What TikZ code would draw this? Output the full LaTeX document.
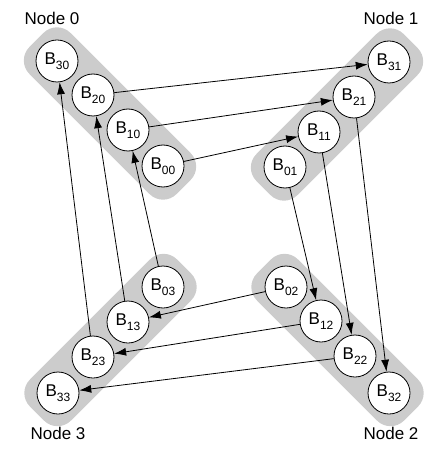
\documentclass[tikz,border=0pt]{standalone}
\usepackage{fontspec}
\setmainfont{Liberation Sans}
\usetikzlibrary{arrows.meta}
\newcommand{\blk}[1]{B\raisebox{-0.5ex}{\fontsize{12}{12}\selectfont #1}}
\tikzset{
  buf/.style={circle, draw, line width=0.8pt, fill=white, minimum size=42pt, inner sep=0pt, font=\fontsize{17}{20}\selectfont},
  grp/.style={fill=black!20, rounded corners=19pt, minimum width=208pt, minimum height=58pt, inner sep=0pt},
  tag/.style={font=\fontsize{17}{20}\selectfont},
  msg/.style={-{Latex[length=12pt,width=8pt]}, line width=0.8pt}
}
\begin{document}
\begin{tikzpicture}[x=1pt, y=-1pt]
\useasboundingbox (0,0) rectangle (438,454);
\node[grp, rotate=-45] (g0) at (110,113.5) {};
\node[grp, rotate=45] (g1) at (337,114.5) {};
\node[grp, rotate=-45] (g2) at (337.5,340) {};
\node[grp, rotate=45] (g3) at (110.5,340) {};
\node[tag] (n0) at (52,18) {Node 0};
\node[tag] (n1) at (391,18) {Node 1};
\node[tag] (n2) at (391,433) {Node 2};
\node[tag] (n3) at (58,433) {Node 3};
\node[buf] (b30) at (57,61) {\blk{30}};
\node[buf] (b20) at (93,95) {\blk{20}};
\node[buf] (b10) at (128,130) {\blk{10}};
\node[buf] (b00) at (163,166) {\blk{00}};
\node[buf] (b31) at (389,62) {\blk{31}};
\node[buf] (b21) at (354,97) {\blk{21}};
\node[buf] (b11) at (319,132) {\blk{11}};
\node[buf] (b01) at (285,167) {\blk{01}};
\node[buf] (b02) at (286,287) {\blk{02}};
\node[buf] (b12) at (321,321) {\blk{12}};
\node[buf] (b22) at (355,356) {\blk{22}};
\node[buf] (b32) at (389,393) {\blk{32}};
\node[buf] (b03) at (163,287) {\blk{03}};
\node[buf] (b13) at (128,322) {\blk{13}};
\node[buf] (b23) at (93,357) {\blk{23}};
\node[buf] (b33) at (58,393) {\blk{33}};
\draw[msg] (b20) -- (b31);
\draw[msg] (b10) -- (b21);
\draw[msg] (b00) -- (b11);
\draw[msg] (b01) -- (b12);
\draw[msg] (b11) -- (b22);
\draw[msg] (b21) -- (b32);
\draw[msg] (b02) -- (b13);
\draw[msg] (b12) -- (b23);
\draw[msg] (b22) -- (b33);
\draw[msg] (b03) -- (b10);
\draw[msg] (b13) -- (b20);
\draw[msg] (b23) -- (b30);
\end{tikzpicture}
\end{document}
